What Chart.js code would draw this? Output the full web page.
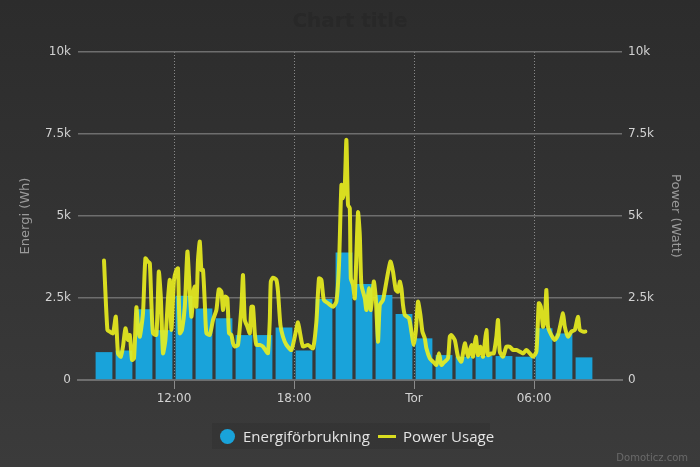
<!DOCTYPE html>
<html>
<head>
<meta charset="utf-8">
<script src="https://cdn.jsdelivr.net/npm/chart.js@4/dist/chart.umd.min.js"></script>
<style>
html, body { margin: 0; padding: 0; }
#wrap {
    position: relative;
    width: 700px;
    height: 467px;
    overflow: hidden;
    background: linear-gradient(to bottom, #2c2c2c, #3b3b3b);
    font-family: 'DejaVu Sans', sans-serif;
}
#chart { position: absolute; left: 0; top: 0; }
#title {
    position: absolute; top: 8px; left: 0; width: 700px;
    text-align: center; font-size: 20px; line-height: 24px;
    font-weight: bold; color: #282828;
}
#legend-bg {
    position: absolute; left: 212px; top: 423px; width: 278px; height: 26px;
    background: rgba(0, 0, 0, 0.07);
}
.legend-text {
    position: absolute; top: 426px;
    font-family: 'Open Sans', sans-serif; font-size: 15px; line-height: 20px;
    color: #e4e4e4; white-space: nowrap;
}
#legend-dot {
    position: absolute; left: 220px; top: 428.5px; width: 15px; height: 15px;
    border-radius: 50%; background: #19a3da;
}
#legend-line {
    position: absolute; left: 378px; top: 434.5px; width: 18px; height: 3px;
    background: rgba(235, 240, 30, 0.9);
}
#credit {
    position: absolute; right: 12px; top: 451px;
    font-size: 10px; line-height: 14px; color: #6a6a6a;
}
</style>
</head>
<body>
<div id="wrap">
    <canvas id="chart" width="700" height="467"></canvas>
    <div id="title">Chart title</div>
    <div id="legend-bg"></div>
    <div id="legend-dot"></div>
    <div class="legend-text" style="left:243px">Energiförbrukning</div>
    <div id="legend-line"></div>
    <div class="legend-text" style="left:403px">Power Usage</div>
    <div id="credit">Domoticz.com</div>
</div>
<script>
// hours counted from midnight of the first day (24 = "Tor" 00:00)
const xTickHours = [12, 18, 24, 30];
const xTickLabels = ['12:00', '18:00', 'Tor', '06:00'];
const yTickValues = [0, 2500, 5000, 7500, 10000];
const yTickLabels = ['0', '2.5k', '5k', '7.5k', '10k'];

// hourly energy bars (Wh)
const barHours = [8.5, 9.5, 10.5, 11.5, 12.5, 13.5, 14.5, 15.5, 16.5, 17.5, 18.5, 19.5,
    20.5, 21.5, 22.5, 23.5, 24.5, 25.5, 26.5, 27.5, 28.5, 29.5, 30.5, 31.5, 32.5];
const energyWh = [850, 900, 2160, 1520, 2570, 2180, 1880, 1370, 1370, 1600, 900, 2470,
    3890, 2930, 2590, 2010, 1270, 760, 710, 730, 730, 710, 1575, 1420, 690];

// power samples (W)
const powerHours = [
    8.50, 8.67, 8.79, 8.95, 9.09, 9.20, 9.34, 9.45, 9.57, 9.70, 9.79, 9.90, 10.00,
    10.12, 10.20, 10.29, 10.45, 10.57, 10.70, 10.79, 10.87, 10.95, 11.12, 11.24, 11.34,
    11.45, 11.57, 11.70, 11.79, 11.87, 12.00, 12.12, 12.20, 12.29, 12.40, 12.54, 12.67,
    12.75, 12.87, 12.99, 13.04, 13.12, 13.20, 13.29, 13.37, 13.45, 13.54, 13.62, 13.79,
    13.95, 14.12, 14.24, 14.37, 14.45, 14.57, 14.67, 14.75, 14.87, 14.95, 15.04, 15.20,
    15.37, 15.45, 15.54, 15.67, 15.79, 15.87, 15.95, 16.04, 16.12, 16.29, 16.45, 16.62,
    16.70, 16.79, 16.84, 16.95, 17.12, 17.20, 17.32, 17.45, 17.62, 17.87, 18.09, 18.20,
    18.32, 18.45, 18.70, 18.95, 19.12, 19.25, 19.37, 19.49, 19.70, 19.95, 20.12, 20.25,
    20.37, 20.45, 20.54, 20.62, 20.70, 20.79, 20.84, 20.95, 21.04, 21.20, 21.29, 21.37,
    21.54, 21.62, 21.75, 21.84, 21.99, 22.09, 22.20, 22.29, 22.45, 22.62, 22.82, 22.95,
    23.09, 23.20, 23.29, 23.37, 23.45, 23.54, 23.75, 23.87, 23.99, 24.09, 24.20, 24.32,
    24.42, 24.54, 24.62, 24.79, 24.95, 25.12, 25.25, 25.37, 25.54, 25.70, 25.79, 25.87,
    26.04, 26.20, 26.37, 26.54, 26.70, 26.87, 26.95, 27.09, 27.20, 27.32, 27.45, 27.62,
    27.70, 27.87, 27.99, 28.12, 28.20, 28.29, 28.45, 28.62, 28.79, 28.95, 29.12, 29.29,
    29.45, 29.62, 29.79, 29.95, 30.12, 30.24, 30.34, 30.45, 30.54, 30.62, 30.70, 30.87,
    31.04, 31.20, 31.32, 31.45, 31.54, 31.70, 31.87, 32.04, 32.20, 32.29, 32.45, 32.57
];
const powerWatt = [
    3640, 1525, 1475, 1425, 1930, 810, 710, 1020, 1575, 1220, 1370, 610, 660,
    2215, 1625, 1320, 2035, 3710, 3610, 3560, 2340, 1425, 1375, 3300, 2540,
    815, 1220, 2490, 3050, 1525, 3050, 3355, 3405, 1425, 1525, 2235, 3915,
    3150, 1930, 2745, 2845, 2235, 3660, 4220, 3355, 3355, 2340, 1425, 1375,
    1830, 2135, 2765, 2695, 2135, 2540, 2490, 1425, 1375, 1120, 1020, 1070,
    2235, 3200, 1830, 1625, 1425, 2235, 2235, 1425, 1070, 1070, 1020, 865,
    815, 1830, 3000, 3120, 3050, 2695, 1680, 1320, 1070, 915, 1475, 1760,
    1375, 1020, 1070, 965, 1780, 3100, 3050, 2440, 2340, 2235, 2390, 3505,
    5945, 5540, 5945, 7320, 5335, 5235, 3100, 2900, 2490, 5110, 4420, 2900,
    2490, 2135, 2795, 2135, 3000, 2490, 1170, 2290, 2440, 3000, 3610, 3305,
    2745, 2695, 3000, 2795, 2290, 1985, 1880, 1475, 1070, 1475, 2390, 1985,
    1475, 1270, 965, 660, 560, 460, 815, 460, 560, 660, 1320, 1370,
    1220, 710, 560, 1120, 710, 1070, 710, 1320, 760, 1015, 710, 1525,
    760, 810, 810, 1320, 1830, 865, 710, 1015, 1015, 915, 915, 865,
    810, 915, 810, 710, 865, 2340, 2240, 1625, 1830, 2745, 1625, 1370,
    1220, 1370, 1680, 2030, 1625, 1320, 1475, 1525, 1930, 1525, 1475, 1475
];

Chart.defaults.font.family = "'DejaVu Sans', sans-serif";
Chart.defaults.font.size = 12;

const barColor = '#19a3da';
const lineColor = 'rgba(235, 240, 30, 0.9)';

new Chart(document.getElementById('chart'), {
    type: 'line',
    data: {
        datasets: [
            {
                type: 'line',
                label: 'Power Usage',
                yAxisID: 'y2',
                order: 0,
                data: powerHours.map((h, i) => ({ x: h, y: powerWatt[i] })),
                borderColor: lineColor,
                borderWidth: 4,
                pointRadius: 0,
                tension: 0.2,
                borderJoinStyle: 'round',
                borderCapStyle: 'round',
                fill: false
            },
            {
                type: 'bar',
                label: 'Energiförbrukning',
                yAxisID: 'y',
                order: 1,
                data: barHours.map((h, i) => ({ x: h, y: energyWh[i] })),
                backgroundColor: barColor,
                borderWidth: 0,
                barPercentage: 0.84,
                categoryPercentage: 1
            }
        ]
    },
    options: {
        responsive: false,
        animation: false,
        devicePixelRatio: 1,
        layout: { padding: { top: 52, left: 0, right: 0, bottom: 0 } },
        plugins: {
            legend: { display: false },
            title: { display: false },
            tooltip: { enabled: false }
        },
        scales: {
            x: {
                type: 'linear',
                min: 7.2,
                max: 34.4,
                offset: false,
                afterBuildTicks: (scale) => { scale.ticks = xTickHours.map(v => ({ value: v })); },
                afterFit: (scale) => { scale.height = 87; },
                ticks: {
                    color: '#d2d2d2',
                    padding: 3,
                    maxRotation: 0,
                    autoSkip: false,
                    callback: (v) => xTickLabels[xTickHours.indexOf(v)] || ''
                },
                grid: { offset: false, color: '#8a8a8a', lineWidth: 1, tickLength: 9, tickColor: '#8a8a8a' },
                border: { display: true, color: '#6e6e6e', width: 2, dash: [1, 2] }
            },
            y: {
                position: 'left',
                min: 0,
                max: 10000,
                afterBuildTicks: (scale) => { scale.ticks = yTickValues.map(v => ({ value: v })); },
                afterFit: (scale) => { scale.width = 78; },
                ticks: {
                    color: '#d2d2d2',
                    padding: 7,
                    callback: (v) => yTickLabels[yTickValues.indexOf(v)]
                },
                grid: { color: '#6e6e6e', lineWidth: 1.5, drawTicks: false },
                border: { display: false },
                title: {
                    display: true, text: 'Energi (Wh)', color: '#9a9a9a',
                    font: { size: 13 }, padding: { top: 18, bottom: 0 }
                }
            },
            y2: {
                position: 'right',
                min: 0,
                max: 10000,
                afterBuildTicks: (scale) => { scale.ticks = yTickValues.map(v => ({ value: v })); },
                afterFit: (scale) => { scale.width = 78; },
                ticks: {
                    color: '#d2d2d2',
                    padding: 6,
                    callback: (v) => yTickLabels[yTickValues.indexOf(v)]
                },
                grid: { drawOnChartArea: false, drawTicks: false },
                border: { display: false },
                title: {
                    display: true, text: 'Power (Watt)', color: '#9a9a9a',
                    font: { size: 13 }, padding: { top: 17, bottom: 0 }
                }
            }
        }
    }
});
</script>
</body>
</html>
